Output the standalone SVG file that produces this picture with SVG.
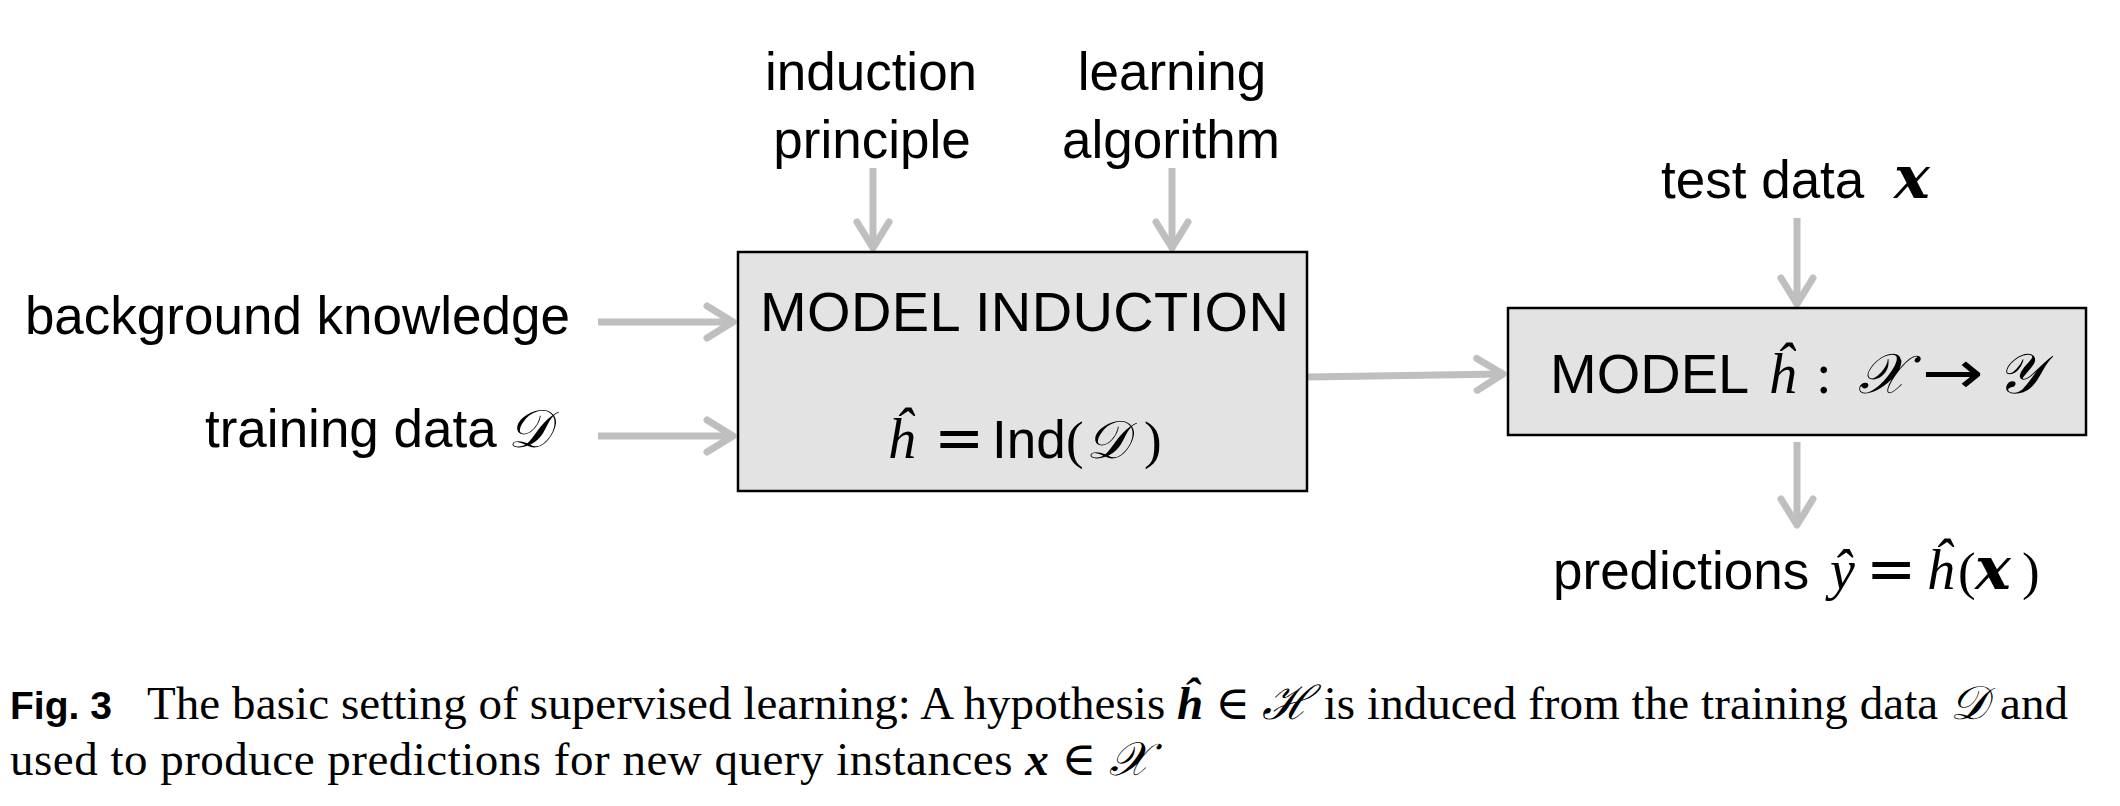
<svg xmlns="http://www.w3.org/2000/svg" width="2120" height="806" viewBox="0 0 2120 806">
<style>
.sans{font-family:"Liberation Sans","DejaVu Sans",sans-serif;font-size:53px;fill:#000}
.big{font-size:56px}
.mi{font-family:"Liberation Serif","DejaVu Serif",serif;font-style:italic;font-size:56px}
.rm{font-family:"Liberation Serif","DejaVu Serif",serif;font-style:normal}
.eq{font-family:"DejaVu Sans",sans-serif;font-size:60px}
.sc{font-family:"DejaVu Serif","Liberation Serif",serif;font-style:italic}
.bx{font-family:"DejaVu Serif","Liberation Serif",serif;font-style:italic;font-weight:bold;font-size:60px}
.box{fill:#e2e3e2;stroke:#000;stroke-width:2.5}
.conn{stroke:#bfbfbf;stroke-width:7;fill:none;stroke-linecap:butt;marker-end:url(#ah)}
.cap{font-family:"Liberation Serif","DejaVu Serif",serif;font-size:47px;fill:#000}
.capb{font-family:"Liberation Sans","DejaVu Sans",sans-serif;font-weight:bold;font-size:39px;fill:#000}
</style>
<defs>
<marker id="ah" markerUnits="userSpaceOnUse" markerWidth="60" markerHeight="60" refX="0" refY="0" orient="auto" style="overflow:visible">
<path d="M-26,-16 L0,0 L-26,16" fill="none" stroke="#bfbfbf" stroke-width="7" stroke-linecap="round" stroke-linejoin="round"/>
</marker>
</defs>
<rect width="2120" height="806" fill="#fff"/>

<g id="connectors">
<path class="conn" d="M873,168 L873,248"/>
<path class="conn" d="M1172,168 L1172,248"/>
<path class="conn" d="M598,322 L733,322"/>
<path class="conn" d="M598,436 L733,436"/>
<path class="conn" d="M1308,377 L1503,374"/>
<path class="conn" d="M1797,218 L1797,304"/>
<path class="conn" d="M1797,442 L1797,525"/>
</g>

<g id="induction-principle">
<text class="sans" text-anchor="middle" x="871" y="90">induction</text>
<text class="sans" text-anchor="middle" x="872" y="158">principle</text>
</g>
<g id="learning-algorithm">
<text class="sans" text-anchor="middle" x="1172" y="90">learning</text>
<text class="sans" text-anchor="middle" x="1171" y="158">algorithm</text>
</g>
<g id="background-knowledge">
<text class="sans" text-anchor="end" x="570" y="334">background knowledge</text>
</g>
<g id="training-data">
<text class="sans" x="205" y="447">training data<tspan class="sc" x="508">𝒟</tspan></text>
</g>
<g id="model-induction">
<rect class="box" x="738" y="252" width="569" height="239"/>
<text class="sans big" x="760" y="331" textLength="529" lengthAdjust="spacing">MODEL INDUCTION</text>
<text class="sans" x="887" y="458"><tspan class="mi">ĥ</tspan><tspan class="eq" x="934">=</tspan><tspan x="992">Ind</tspan><tspan class="rm" x="1066">(</tspan><tspan class="sc" x="1086">𝒟</tspan><tspan class="rm" x="1144">)</tspan></text>
</g>
<g id="test-data">
<text class="sans" x="1661" y="198">test data<tspan class="bx" x="1894">x</tspan></text>
</g>
<g id="model">
<rect class="box" x="1508" y="308" width="578" height="127"/>
<text class="sans big" x="1550" y="393">MODEL<tspan class="mi" x="1768">ĥ</tspan><tspan class="rm" x="1816">:</tspan><tspan class="sc" x="1858">𝒳</tspan><tspan class="sc" x="1997">𝒴</tspan></text>
<text class="eq" x="1922" y="393" textLength="62" lengthAdjust="spacingAndGlyphs">→</text>
</g>
<g id="predictions">
<text class="sans" x="1553" y="589">predictions<tspan class="mi" x="1830">ŷ</tspan><tspan class="eq" x="1866">=</tspan><tspan class="mi" x="1926">ĥ</tspan><tspan class="rm" x="1958">(</tspan><tspan class="bx" x="1975">x</tspan><tspan class="rm" x="2022">)</tspan></text>
</g>

<g id="caption">
<text class="capb" x="10" y="719">Fig. 3</text>
<text class="cap" x="147" y="719" textLength="1921" lengthAdjust="spacing">The basic setting of supervised learning: A hypothesis <tspan font-style="italic" font-weight="bold">ĥ</tspan> ∈ <tspan font-style="italic">ℋ</tspan> is induced from the training data <tspan font-style="italic">𝒟</tspan> and</text>
<text class="cap" x="10" y="775" textLength="1139" lengthAdjust="spacing">used to produce predictions for new query instances <tspan font-style="italic" font-weight="bold">x</tspan> ∈ <tspan font-style="italic">𝒳</tspan></text>
</g>
</svg>
